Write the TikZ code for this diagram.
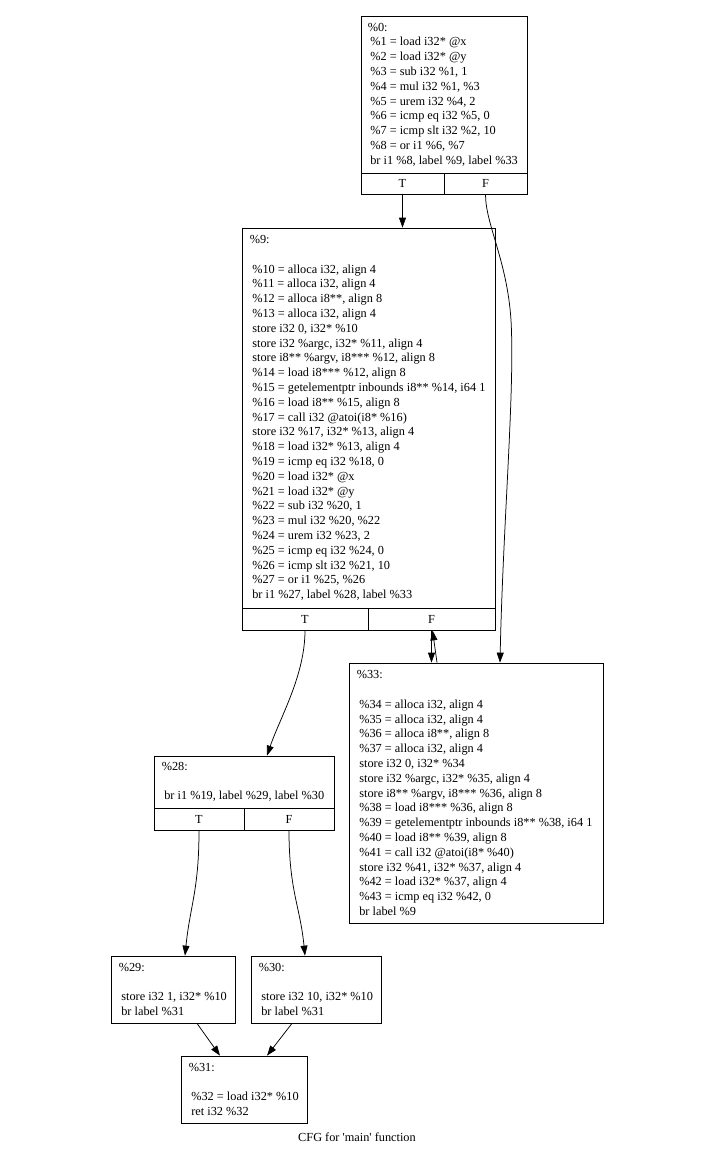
\documentclass[tikz,border=0pt]{standalone}
\usepackage{fontspec}
\setmainfont{Liberation Serif}
\font\capfont="Liberation Serif" at 12.3pt
\usetikzlibrary{arrows.meta}
\newcommand\myind{\hspace*{2.5pt}}
\tikzset{
  box/.style={draw=black, line width=0.75pt, inner sep=0pt},
  code/.style={align=left, inner sep=0pt, anchor=west, font=\fontsize{12.3}{14.8}\selectfont},
  portlbl/.style={draw=black, line width=0.75pt, inner sep=0pt, font=\fontsize{12.3}{14.8}\selectfont},
  flow/.style={-{Triangle[length=10pt,width=7pt]}, line width=0.75pt, black}
}
\begin{document}
\begin{tikzpicture}[x=1pt,y=-1pt]
\useasboundingbox (0,0) rectangle (726,1168);
% block %0
\node[box, minimum width=166pt, minimum height=157pt] (n0) at (444,94.5) {};
\node[code] (t0) at ([xshift=7pt]n0.west) {\%0:\\
\myind\%1 = load i32* @x\\
\myind\%2 = load i32* @y\\
\myind\%3 = sub i32 \%1, 1\\
\myind\%4 = mul i32 \%1, \%3\\
\myind\%5 = urem i32 \%4, 2\\
\myind\%6 = icmp eq i32 \%5, 0\\
\myind\%7 = icmp slt i32 \%2, 10\\
\myind\%8 = or i1 \%6, \%7\\
\myind br i1 \%8, label \%9, label \%33};
\node[portlbl, minimum width=83pt, minimum height=21pt] (n0T) at (402.5,183.5) {T};
\node[portlbl, minimum width=83pt, minimum height=21pt] (n0F) at (485.5,183.5) {F};
% block %9
\node[box, minimum width=253pt, minimum height=380pt] (n9) at (368.5,418) {};
\node[code] (t9) at ([xshift=8pt]n9.west) {\%9:\\[14.8pt]
\myind\%10 = alloca i32, align 4\\
\myind\%11 = alloca i32, align 4\\
\myind\%12 = alloca i8**, align 8\\
\myind\%13 = alloca i32, align 4\\
\myind store i32 0, i32* \%10\\
\myind store i32 \%argc, i32* \%11, align 4\\
\myind store i8** \%argv, i8*** \%12, align 8\\
\myind\%14 = load i8*** \%12, align 8\\
\myind\%15 = getelementptr inbounds i8** \%14, i64 1\\
\myind\%16 = load i8** \%15, align 8\\
\myind\%17 = call i32 @atoi(i8* \%16)\\
\myind store i32 \%17, i32* \%13, align 4\\
\myind\%18 = load i32* \%13, align 4\\
\myind\%19 = icmp eq i32 \%18, 0\\
\myind\%20 = load i32* @x\\
\myind\%21 = load i32* @y\\
\myind\%22 = sub i32 \%20, 1\\
\myind\%23 = mul i32 \%20, \%22\\
\myind\%24 = urem i32 \%23, 2\\
\myind\%25 = icmp eq i32 \%24, 0\\
\myind\%26 = icmp slt i32 \%21, 10\\
\myind\%27 = or i1 \%25, \%26\\
\myind br i1 \%27, label \%28, label \%33};
\node[portlbl, minimum width=126pt, minimum height=22pt] (n9T) at (305,619) {T};
\node[portlbl, minimum width=127pt, minimum height=22pt] (n9F) at (431.5,619) {F};
% block %33
\node[box, minimum width=254pt, minimum height=260pt] (n33) at (476,793) {};
\node[code] (t33) at ([xshift=8pt]n33.west) {\%33:\\[14.8pt]
\myind\%34 = alloca i32, align 4\\
\myind\%35 = alloca i32, align 4\\
\myind\%36 = alloca i8**, align 8\\
\myind\%37 = alloca i32, align 4\\
\myind store i32 0, i32* \%34\\
\myind store i32 \%argc, i32* \%35, align 4\\
\myind store i8** \%argv, i8*** \%36, align 8\\
\myind\%38 = load i8*** \%36, align 8\\
\myind\%39 = getelementptr inbounds i8** \%38, i64 1\\
\myind\%40 = load i8** \%39, align 8\\
\myind\%41 = call i32 @atoi(i8* \%40)\\
\myind store i32 \%41, i32* \%37, align 4\\
\myind\%42 = load i32* \%37, align 4\\
\myind\%43 = icmp eq i32 \%42, 0\\
\myind br label \%9};
% block %28
\node[box, minimum width=180pt, minimum height=52pt] (n28) at (244,782) {};
\node[code] (t28) at ([xshift=8pt]n28.west) {\%28:\\[14.8pt]
\myind br i1 \%19, label \%29, label \%30};
\node[portlbl, minimum width=90pt, minimum height=22pt] (n28T) at (199,819) {T};
\node[portlbl, minimum width=90pt, minimum height=22pt] (n28F) at (289,819) {F};
% block %29
\node[box, minimum width=124pt, minimum height=67pt] (n29) at (173,989.5) {};
\node[code] (t29) at ([xshift=8pt]n29.west) {\%29:\\[14.8pt]
\myind store i32 1, i32* \%10\\
\myind br label \%31};
% block %30
\node[box, minimum width=130pt, minimum height=67pt] (n30) at (316,989.5) {};
\node[code] (t30) at ([xshift=8pt]n30.west) {\%30:\\[14.8pt]
\myind store i32 10, i32* \%10\\
\myind br label \%31};
% block %31
\node[box, minimum width=126pt, minimum height=67pt] (n31) at (244,1089.5) {};
\node[code] (t31) at ([xshift=8pt]n31.west) {\%31:\\[14.8pt]
\myind\%32 = load i32* \%10\\
\myind ret i32 \%32};
% caption
\node[inner sep=0pt] (cap) at (357,1137) {\capfont CFG for 'main' function};
% edges
\draw[flow] (n0T.south) -- (n0T.south |- n9.north);
\draw[flow] (n0F.south) .. controls +(0,30) and +(-4,-60) .. (511,320) .. controls +(4,70) and +(3,-140) .. ([xshift=24pt]n33.north);
\draw[flow] (n9F.south) -- (n9F.south |- n33.north);
\draw[flow] ([xshift=-39pt]n33.north) -- ([xshift=1pt]n9F.south);
\draw[flow] (n9T.south) .. controls +(0,45) and +(13,-38) .. ([xshift=23pt]n28.north);
\draw[flow] (n28T.south) .. controls +(0,60) and +(5,-50) .. ([xshift=12pt]n29.north);
\draw[flow] (n28F.south) .. controls +(0,60) and +(-5,-50) .. ([xshift=-11pt]n30.north);
\draw[flow] ([xshift=24pt]n29.south) -- ([xshift=-24pt]n31.north);
\draw[flow] ([xshift=-24pt]n30.south) -- ([xshift=23pt]n31.north);
\end{tikzpicture}
\end{document}
